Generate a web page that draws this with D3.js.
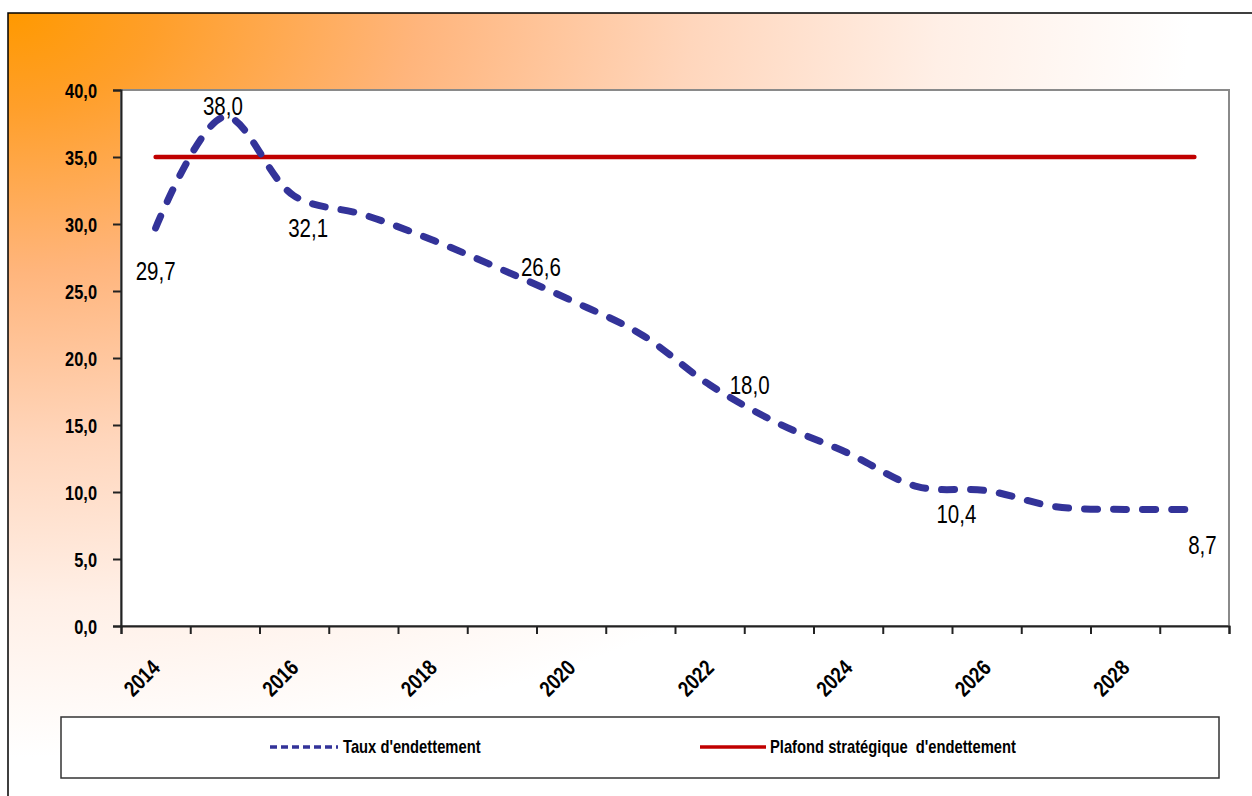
<!DOCTYPE html>
<html>
<head>
<meta charset="utf-8">
<script src="https://cdn.jsdelivr.net/npm/d3@7"></script>
<style>
  body { margin: 0; background: #fff; }
  text { font-family: "Liberation Sans", Arial, sans-serif; }
</style>
</head>
<body>
<script>
// années (catégories)
var years = [2014, 2015, 2016, 2017, 2018, 2019, 2020, 2021, 2022, 2023, 2024, 2025, 2026, 2027, 2028, 2029];
// taux d'endettement
var taux = [29.7, 38.0, 32.1, 30.7, 28.8, 26.6, 24.3, 21.8, 18.0, 15.1, 12.9, 10.4, 10.1, 8.9, 8.7, 8.7];
// plafond stratégique
var plafond = [35, 35, 35, 35, 35, 35, 35, 35, 35, 35, 35, 35, 35, 35, 35, 35];
var yTicks = [0, 5, 10, 15, 20, 25, 30, 35, 40];
var xTickLabels = ["2014", "2016", "2018", "2020", "2022", "2024", "2026", "2028"];
// années avec étiquette de valeur
var labelledYears = [2014, 2015, 2016, 2019, 2022, 2025, 2029];

var W = 1252, H = 796;
var plot = { left: 121, right: 1229, top: 90, bottom: 626 };
var NARROW = 0.82; // pas d'Arial Narrow : on compresse l'Arial

// compresse horizontalement un texte autour de son point d'ancrage
function narrow(sel) {
    sel.each(function () {
        var t = d3.select(this);
        var tx = +t.attr("x") || 0, ty = +t.attr("y") || 0;
        var prev = t.attr("transform") || "";
        t.attr("x", 0).attr("y", 0)
            .attr("transform", prev + " translate(" + tx + "," + ty + ") scale(" + NARROW + ",1)");
    });
}

var svg = d3.select("body").append("svg")
    .attr("width", W).attr("height", H);

// fond dégradé orange -> blanc
var defs = svg.append("defs");
var grad = defs.append("radialGradient")
    .attr("id", "bg")
    .attr("cx", 0).attr("cy", 0).attr("r", 1)
    .attr("fx", 0).attr("fy", 0);
[[0, "#FF9900"], [0.12, "#FF9F2A"], [0.33, "#FFB57C"], [0.55, "#FFD6BC"], [0.75, "#FFEFE6"], [0.95, "#FFFFFF"]]
    .forEach(function (s) {
        grad.append("stop").attr("offset", s[0]).attr("stop-color", s[1]);
    });

svg.append("rect")
    .attr("x", 8).attr("y", 13)
    .attr("width", W - 8).attr("height", H - 13)
    .attr("fill", "url(#bg)");
svg.append("path")
    .attr("d", "M8," + H + "V13H" + W)
    .attr("fill", "none").attr("stroke", "#000").attr("stroke-width", 1.5);

// zone de tracé
svg.append("rect")
    .attr("x", plot.left).attr("y", plot.top)
    .attr("width", plot.right - plot.left).attr("height", plot.bottom - plot.top)
    .attr("fill", "#fff")
    .attr("stroke", "#8a8a8a").attr("stroke-width", 2);

// échelles
var x = d3.scaleBand().domain(years).range([plot.left, plot.right]).padding(0);
var xEdge = d3.scaleLinear().domain([0, years.length]).range([plot.left, plot.right]);
var y = d3.scaleLinear().domain([0, 40]).range([plot.bottom, plot.top]);
var cx = function (d) { return x(d) + x.bandwidth() / 2; };

// axe Y
var yAxis = svg.append("g")
    .attr("transform", "translate(" + plot.left + ",0)")
    .call(d3.axisLeft(y).tickValues(yTicks).tickSize(8).tickPadding(16)
        .tickFormat(function (d) { return d.toFixed(1).replace(".", ","); }));
yAxis.select(".domain").attr("stroke", "#222").attr("stroke-width", 2);
yAxis.selectAll(".tick line").attr("stroke", "#222").attr("stroke-width", 2);
yAxis.selectAll(".tick text")
    .attr("fill", "#000")
    .style("font-size", "20px").style("font-weight", "bold")
    .attr("dy", "0.35em")
    .call(narrow);

// axe X : graduations entre les catégories
var xAxis = svg.append("g")
    .attr("transform", "translate(0," + plot.bottom + ")")
    .call(d3.axisBottom(xEdge).tickValues(d3.range(years.length + 1)).tickSize(8).tickFormat(""));
xAxis.select(".domain").attr("stroke", "#222").attr("stroke-width", 2);
xAxis.selectAll(".tick line").attr("stroke", "#222").attr("stroke-width", 2);

// libellés des années, inclinés
svg.append("g").selectAll("text")
    .data(xTickLabels)
    .enter().append("text")
    .attr("transform", function (d) {
        return "translate(" + (cx(+d) - 14) + "," + 678 + ") rotate(-45)";
    })
    .attr("text-anchor", "middle")
    .attr("dy", "0.35em")
    .style("font-size", "22px").style("font-weight", "bold")
    .text(function (d) { return d; })
    .call(narrow);

// plafond
var line = d3.line()
    .x(function (d, i) { return cx(years[i]); })
    .y(function (d) { return y(d); });
svg.append("path")
    .datum(plafond)
    .attr("d", line)
    .attr("fill", "none")
    .attr("stroke", "#C00000").attr("stroke-width", 4.5)
    .attr("stroke-linecap", "round");

// taux d'endettement (courbe lissée)
var smooth = d3.line()
    .x(function (d, i) { return cx(years[i]); })
    .y(function (d) { return y(d); })
    .curve(d3.curveCatmullRom.alpha(0.5));
svg.append("path")
    .datum(taux)
    .attr("d", smooth)
    .attr("fill", "none")
    .attr("stroke", "#333399").attr("stroke-width", 7)
    .attr("stroke-linecap", "round")
    .attr("stroke-dasharray", "13,16");

// étiquettes de valeur (décalage par rapport au point)
var labelShift = {
    2014: [0, 43], 2015: [-2, -11], 2016: [14, 32], 2019: [39, -2],
    2022: [40, 0], 2025: [39, 28], 2029: [8, 36]
};
svg.append("g").selectAll("text")
    .data(labelledYears)
    .enter().append("text")
    .attr("x", function (d) { return cx(d) + labelShift[d][0]; })
    .attr("y", function (d) { return y(taux[years.indexOf(d)]) + labelShift[d][1]; })
    .attr("text-anchor", "middle")
    .attr("dy", "0.35em")
    .style("font-size", "25px")
    .text(function (d) { return taux[years.indexOf(d)].toFixed(1).replace(".", ","); })
    .call(narrow);

// légende
var leg = svg.append("g");
leg.append("rect")
    .attr("x", 61).attr("y", 717).attr("width", 1158).attr("height", 61)
    .attr("fill", "#fff").attr("stroke", "#333").attr("stroke-width", 1.5);
leg.append("line")
    .attr("x1", 270).attr("x2", 338).attr("y1", 747).attr("y2", 747)
    .attr("stroke", "#333399").attr("stroke-width", 3.5)
    .attr("stroke-dasharray", "7,4");
leg.append("text")
    .attr("x", 343).attr("y", 747).attr("dy", "0.35em")
    .style("font-size", "18px").style("font-weight", "bold")
    .text("Taux d'endettement")
    .call(narrow);
leg.append("line")
    .attr("x1", 700).attr("x2", 766).attr("y1", 747).attr("y2", 747)
    .attr("stroke", "#C00000").attr("stroke-width", 3.5);
leg.append("text")
    .attr("x", 770).attr("y", 747).attr("dy", "0.35em")
    .style("font-size", "18px").style("font-weight", "bold")
    .style("white-space", "pre")
    .text("Plafond stratégique  d'endettement")
    .call(narrow);
</script>
</body>
</html>
